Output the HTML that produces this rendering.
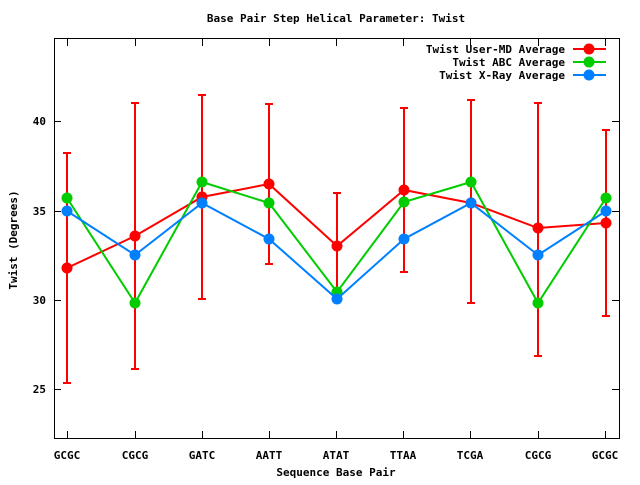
<!DOCTYPE html>
<html><head><meta charset="utf-8"><style>
html,body{margin:0;padding:0;background:#fff}
svg text{font-family:"DejaVu Sans Mono","Liberation Mono",monospace;font-size:11px;font-weight:bold;fill:#000}
</style></head><body>
<svg width="640" height="480" xmlns="http://www.w3.org/2000/svg">
<rect width="640" height="480" fill="#fff"/>
<text x="336" y="22" text-anchor="middle">Base Pair Step Helical Parameter: Twist</text>
<rect x="54.5" y="38.5" width="565" height="400" fill="none" stroke="#000" stroke-width="1"/>
<g stroke="#000" stroke-width="1">
<line x1="54" y1="121.5" x2="61" y2="121.5"/><line x1="612" y1="121.5" x2="619" y2="121.5"/>
<line x1="54" y1="211.5" x2="61" y2="211.5"/><line x1="612" y1="211.5" x2="619" y2="211.5"/>
<line x1="54" y1="300.5" x2="61" y2="300.5"/><line x1="612" y1="300.5" x2="619" y2="300.5"/>
<line x1="54" y1="389.5" x2="61" y2="389.5"/><line x1="612" y1="389.5" x2="619" y2="389.5"/>
<line x1="67.5" y1="438" x2="67.5" y2="431"/><line x1="135.5" y1="438" x2="135.5" y2="431"/>
<line x1="202.5" y1="438" x2="202.5" y2="431"/><line x1="269.5" y1="438" x2="269.5" y2="431"/>
<line x1="336.5" y1="438" x2="336.5" y2="431"/><line x1="403.5" y1="438" x2="403.5" y2="431"/>
<line x1="470.5" y1="438" x2="470.5" y2="431"/><line x1="538.5" y1="438" x2="538.5" y2="431"/>
<line x1="605.5" y1="438" x2="605.5" y2="431"/>
<line x1="67.5" y1="39" x2="67.5" y2="46"/><line x1="135.5" y1="39" x2="135.5" y2="46"/>
<line x1="202.5" y1="39" x2="202.5" y2="46"/><line x1="269.5" y1="39" x2="269.5" y2="46"/>
<line x1="336.5" y1="39" x2="336.5" y2="46"/><line x1="403.5" y1="39" x2="403.5" y2="46"/>
<line x1="470.5" y1="39" x2="470.5" y2="46"/><line x1="538.5" y1="39" x2="538.5" y2="46"/>
<line x1="605.5" y1="39" x2="605.5" y2="46"/>
</g>
<g text-anchor="end">
<text x="46" y="125">40</text><text x="46" y="215">35</text><text x="46" y="304">30</text><text x="46" y="393">25</text>
</g>
<g text-anchor="middle">
<text x="67" y="459">GCGC</text><text x="135" y="459">CGCG</text><text x="202" y="459">GATC</text>
<text x="269" y="459">AATT</text><text x="336" y="459">ATAT</text><text x="403" y="459">TTAA</text>
<text x="470" y="459">TCGA</text><text x="538" y="459">CGCG</text><text x="605" y="459">GCGC</text>
<text x="336" y="476">Sequence Base Pair</text>
<text transform="translate(17,240) rotate(-90)">Twist (Degrees)</text>
</g>
<g stroke="#f00" stroke-width="2" fill="none">
<path d="M67,153V383M63,153H71M63,383H71"/>
<path d="M135,103V369M131,103H139M131,369H139"/>
<path d="M202,95V299M198,95H206M198,299H206"/>
<path d="M269,104V264M265,104H273M265,264H273"/>
<path d="M337,193V296M333,193H341M333,296H341"/>
<path d="M404,108V272M400,108H408M400,272H408"/>
<path d="M471,100V303M467,100H475M467,303H475"/>
<path d="M538,103V356M534,103H542M534,356H542"/>
<path d="M606,130V316M602,130H610M602,316H610"/>
<polyline points="67,268 135,236 202,197 269,184 337,246 404,190 471,203 538,228 606,223"/>
</g>
<g fill="#f00">
<circle cx="67" cy="268" r="5.5"/><circle cx="135" cy="236" r="5.5"/><circle cx="202" cy="197" r="5.5"/>
<circle cx="269" cy="184" r="5.5"/><circle cx="337" cy="246" r="5.5"/><circle cx="404" cy="190" r="5.5"/>
<circle cx="471" cy="203" r="5.5"/><circle cx="538" cy="228" r="5.5"/><circle cx="606" cy="223" r="5.5"/>
</g>
<polyline points="67,198 135,303 202,182 269,203 337,292 404,202 471,182 538,303 606,198" fill="none" stroke="#0c0" stroke-width="2"/>
<g fill="#0c0">
<circle cx="67" cy="198" r="5.5"/><circle cx="135" cy="303" r="5.5"/><circle cx="202" cy="182" r="5.5"/>
<circle cx="269" cy="203" r="5.5"/><circle cx="337" cy="292" r="5.5"/><circle cx="404" cy="202" r="5.5"/>
<circle cx="471" cy="182" r="5.5"/><circle cx="538" cy="303" r="5.5"/><circle cx="606" cy="198" r="5.5"/>
</g>
<polyline points="67,211 135,255 202,203 269,239 337,299 404,239 471,203 538,255 606,211" fill="none" stroke="#0080ff" stroke-width="2"/>
<g fill="#0080ff">
<circle cx="67" cy="211" r="5.5"/><circle cx="135" cy="255" r="5.5"/><circle cx="202" cy="203" r="5.5"/>
<circle cx="269" cy="239" r="5.5"/><circle cx="337" cy="299" r="5.5"/><circle cx="404" cy="239" r="5.5"/>
<circle cx="471" cy="203" r="5.5"/><circle cx="538" cy="255" r="5.5"/><circle cx="606" cy="211" r="5.5"/>
</g>
<g text-anchor="end">
<text x="565" y="53">Twist User-MD Average</text>
<text x="565" y="66">Twist ABC Average</text>
<text x="565" y="79">Twist X-Ray Average</text>
</g>
<line x1="573" y1="49" x2="606" y2="49" stroke="#f00" stroke-width="2"/><circle cx="589" cy="49" r="5.5" fill="#f00"/>
<line x1="573" y1="62" x2="606" y2="62" stroke="#0c0" stroke-width="2"/><circle cx="589" cy="62" r="5.5" fill="#0c0"/>
<line x1="573" y1="75" x2="606" y2="75" stroke="#0080ff" stroke-width="2"/><circle cx="589" cy="75" r="5.5" fill="#0080ff"/>
</svg>
</body></html>
